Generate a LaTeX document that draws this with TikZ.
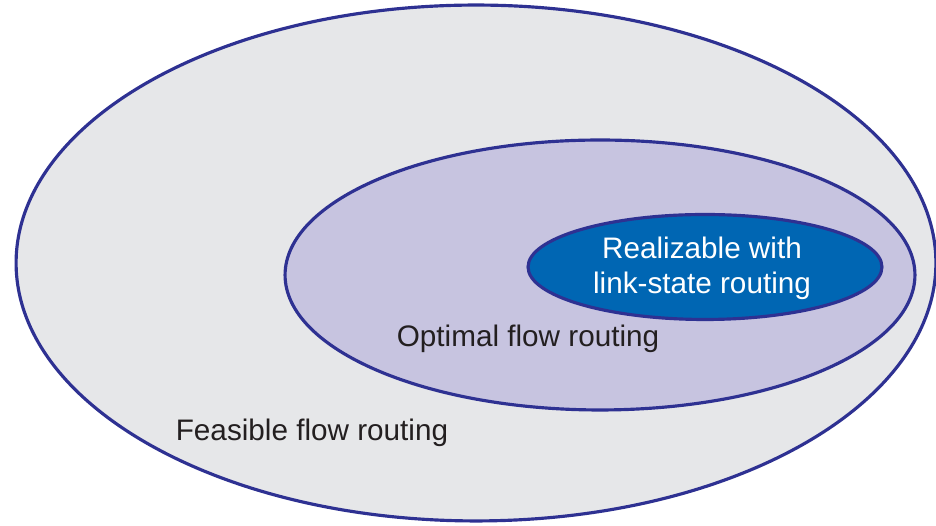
\documentclass[tikz,border=0pt]{standalone}
\usepackage{fontspec}
\setmainfont{Liberation Sans}
\usetikzlibrary{shapes.geometric}

\definecolor{setline}{HTML}{2E3192}
\definecolor{feasiblefill}{HTML}{E6E7E9}
\definecolor{optimalfill}{HTML}{C7C4E0}
\definecolor{linkstatefill}{HTML}{0066B3}
\definecolor{labeltext}{HTML}{231F20}

\tikzset{
  setregion/.style={ellipse, draw=setline, line width=1.8pt, inner sep=0pt},
  setlabel/.style={font=\fontsize{16.9}{19.9}\selectfont, text=labeltext, align=center}
}

\begin{document}
\begin{tikzpicture}[x=0.02cm, y=0.02cm]
  % Frame
    \useasboundingbox (0,0) rectangle (936,526);

  % Sets
    \node[setregion, fill=feasiblefill, minimum width=18.4cm, minimum height=10.32cm] (feasible) at (476,263) {};
    \node[setregion, fill=optimalfill, minimum width=12.6cm, minimum height=5.4cm] (optimal) at (600,251) {};
    \node[setregion, fill=linkstatefill, minimum width=7.08cm, minimum height=2.1cm] (linkstate) at (705,259) {};

  % Labels
    \node[setlabel, text=white] (linkstatelabel) at (702,258) {Realizable with\\link-state routing};
    \node[setlabel] (optimallabel) at (528,187) {Optimal flow routing};
    \node[setlabel] (feasiblelabel) at (312,93) {Feasible flow routing};

  \end{tikzpicture}
\end{document}
